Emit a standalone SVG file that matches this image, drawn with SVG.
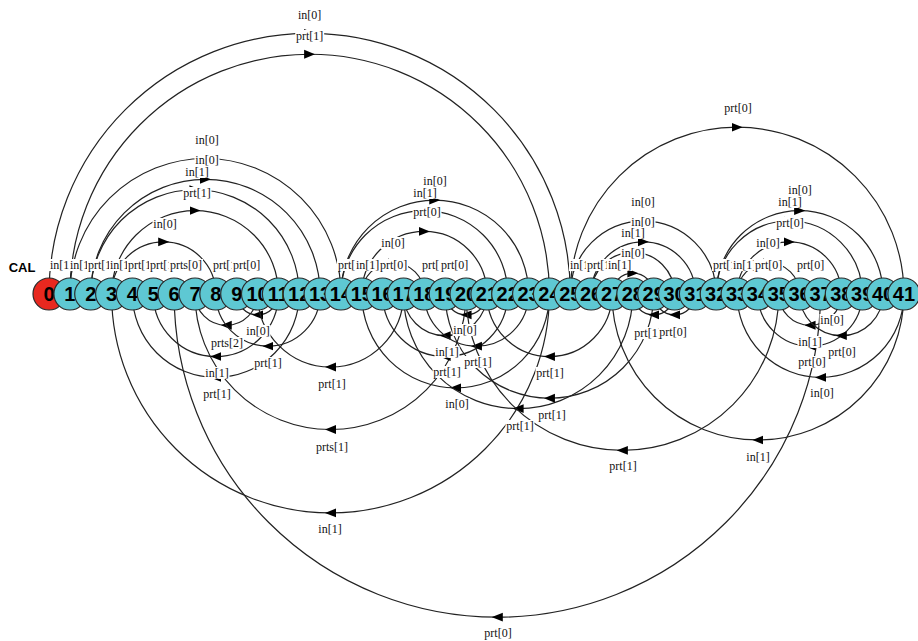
<svg xmlns="http://www.w3.org/2000/svg" width="918" height="641" viewBox="0 0 918 641">
<style>
.e{fill:none;stroke:#222;stroke-width:1.2;marker-mid:url(#ah)}
.bg{fill:#fff}
.l{font-family:"Liberation Serif",serif;font-size:12px;fill:#111;text-anchor:middle}
.ls{font-family:"Liberation Serif",serif;font-size:12px;fill:#111}
.n circle{fill:#5ec8d3;stroke:#2a2a2a;stroke-width:1.2}
.r circle{fill:#e8281f;stroke:#2a2a2a;stroke-width:1.2}
.n text,.r text{font-family:"Liberation Sans",Arial,sans-serif;font-weight:bold;font-size:20px;text-anchor:middle;fill:#000}
.cal{font-family:"Liberation Sans",Arial,sans-serif;font-weight:bold;font-size:13px;text-anchor:middle;fill:#000}
</style>
<defs>
<marker id="ah" viewBox="0 0 10 10" refX="5" refY="5" markerWidth="11" markerHeight="11" markerUnits="userSpaceOnUse" orient="auto"><path d="M0,1 L10,5 L0,9 z" fill="#000"/></marker>
</defs>
<rect width="918" height="641" fill="#fff"/>
<g id="connectors">
<path class="e" d="M49,294 A260.65,260.65 0 0 1 309.65,33.35 A260.65,260.65 0 0 1 570.3,294"/>
<path class="e" d="M69.9,294 A239.75,239.75 0 0 1 309.65,54.25 A239.75,239.75 0 0 1 549.4,294"/>
<path class="e" d="M69.9,294 A135.5,135.5 0 0 1 205.4,158.5 A135.5,135.5 0 0 1 340.9,294"/>
<path class="e" d="M90.7,294 A114.7,114.7 0 0 1 205.4,179.3 A114.7,114.7 0 0 1 320.1,294"/>
<path class="e" d="M90.7,294 A104.25,104.25 0 0 1 194.95,189.75 A104.25,104.25 0 0 1 299.2,294"/>
<path class="e" d="M111.6,294 A83.4,83.4 0 0 1 195,210.6 A83.4,83.4 0 0 1 278.4,294"/>
<path class="e" d="M111.6,294 A52.1,52.1 0 0 1 163.7,241.9 A52.1,52.1 0 0 1 215.8,294"/>
<path class="e" d="M340.9,294 A93.85,93.85 0 0 1 434.75,200.15 A93.85,93.85 0 0 1 528.6,294"/>
<path class="e" d="M340.9,294 A83.4,83.4 0 0 1 424.3,210.6 A83.4,83.4 0 0 1 507.7,294"/>
<path class="e" d="M361.8,294 A62.55,62.55 0 0 1 424.35,231.45 A62.55,62.55 0 0 1 486.9,294"/>
<path class="e" d="M361.8,294 A31.25,31.25 0 0 1 393.05,262.75 A31.25,31.25 0 0 1 424.3,294"/>
<path class="e" d="M570.3,294 A166.8,166.8 0 0 1 737.1,127.2 A166.8,166.8 0 0 1 903.9,294"/>
<path class="e" d="M570.3,294 A72.95,72.95 0 0 1 643.25,221.05 A72.95,72.95 0 0 1 716.2,294"/>
<path class="e" d="M591.1,294 A52.15,52.15 0 0 1 643.25,241.85 A52.15,52.15 0 0 1 695.4,294"/>
<path class="e" d="M591.1,294 A41.7,41.7 0 0 1 632.8,252.3 A41.7,41.7 0 0 1 674.5,294"/>
<path class="e" d="M612,294 A20.85,20.85 0 0 1 632.85,273.15 A20.85,20.85 0 0 1 653.7,294"/>
<path class="e" d="M716.2,294 A83.4,83.4 0 0 1 799.6,210.6 A83.4,83.4 0 0 1 883,294"/>
<path class="e" d="M716.2,294 A73,73 0 0 1 789.2,221 A73,73 0 0 1 862.2,294"/>
<path class="e" d="M737.1,294 A52.1,52.1 0 0 1 789.2,241.9 A52.1,52.1 0 0 1 841.3,294"/>
<path class="e" d="M737.1,294 A31.25,31.25 0 0 1 768.35,262.75 A31.25,31.25 0 0 1 799.6,294"/>
<path class="e" d="M278.4,294 A20.85,20.85 0 0 1 257.55,314.85 A20.85,20.85 0 0 1 236.7,294"/>
<path class="e" d="M257.5,294 A31.25,31.25 0 0 1 226.25,325.25 A31.25,31.25 0 0 1 195,294"/>
<path class="e" d="M320.1,294 A52.15,52.15 0 0 1 267.95,346.15 A52.15,52.15 0 0 1 215.8,294"/>
<path class="e" d="M278.4,294 A62.55,62.55 0 0 1 215.85,356.55 A62.55,62.55 0 0 1 153.3,294"/>
<path class="e" d="M299.2,294 A83.4,83.4 0 0 1 215.8,377.4 A83.4,83.4 0 0 1 132.4,294"/>
<path class="e" d="M403.5,294 A73,73 0 0 1 330.5,367 A73,73 0 0 1 257.5,294"/>
<path class="e" d="M466,294 A135.5,135.5 0 0 1 330.5,429.5 A135.5,135.5 0 0 1 195,294"/>
<path class="e" d="M549.4,294 A218.9,218.9 0 0 1 330.5,512.9 A218.9,218.9 0 0 1 111.6,294"/>
<path class="e" d="M820.5,294 A323.2,323.2 0 0 1 497.3,617.2 A323.2,323.2 0 0 1 174.1,294"/>
<path class="e" d="M486.9,294 A20.85,20.85 0 0 1 466.05,314.85 A20.85,20.85 0 0 1 445.2,294"/>
<path class="e" d="M486.9,294 A41.7,41.7 0 0 1 445.2,335.7 A41.7,41.7 0 0 1 403.5,294"/>
<path class="e" d="M507.7,294 A62.55,62.55 0 0 1 445.15,356.55 A62.55,62.55 0 0 1 382.6,294"/>
<path class="e" d="M528.6,294 A52.15,52.15 0 0 1 476.45,346.15 A52.15,52.15 0 0 1 424.3,294"/>
<path class="e" d="M549.4,294 A93.8,93.8 0 0 1 455.6,387.8 A93.8,93.8 0 0 1 361.8,294"/>
<path class="e" d="M632.8,294 A114.65,114.65 0 0 1 518.15,408.65 A114.65,114.65 0 0 1 403.5,294"/>
<path class="e" d="M612,294 A62.55,62.55 0 0 1 549.45,356.55 A62.55,62.55 0 0 1 486.9,294"/>
<path class="e" d="M653.7,294 A104.25,104.25 0 0 1 549.45,398.25 A104.25,104.25 0 0 1 445.2,294"/>
<path class="e" d="M778.8,294 A156.4,156.4 0 0 1 622.4,450.4 A156.4,156.4 0 0 1 466,294"/>
<path class="e" d="M903.9,294 A145.95,145.95 0 0 1 757.95,439.95 A145.95,145.95 0 0 1 612,294"/>
<path class="e" d="M674.5,294 A20.85,20.85 0 0 1 653.65,314.85 A20.85,20.85 0 0 1 632.8,294"/>
<path class="e" d="M695.4,294 A20.85,20.85 0 0 1 674.55,314.85 A20.85,20.85 0 0 1 653.7,294"/>
<path class="e" d="M841.3,294 A31.25,31.25 0 0 1 810.05,325.25 A31.25,31.25 0 0 1 778.8,294"/>
<path class="e" d="M862.2,294 A52.15,52.15 0 0 1 810.05,346.15 A52.15,52.15 0 0 1 757.9,294"/>
<path class="e" d="M883,294 A41.7,41.7 0 0 1 841.3,335.7 A41.7,41.7 0 0 1 799.6,294"/>
<path class="e" d="M903.9,294 A83.4,83.4 0 0 1 820.5,377.4 A83.4,83.4 0 0 1 737.1,294"/>
</g>
<g id="edge-labels">
<rect class="bg" x="297.2" y="9" width="25" height="12"/><text class="l" x="309.65" y="19">in[0]</text>
<rect class="bg" x="295.2" y="30" width="29" height="12"/><text class="l" x="309.65" y="40">prt[1]</text>
<rect class="bg" x="194.5" y="134" width="25" height="12"/><text class="l" x="207" y="144">in[0]</text>
<rect class="bg" x="194.5" y="154" width="25" height="12"/><text class="l" x="207" y="164">in[0]</text>
<rect class="bg" x="184.5" y="166" width="25" height="12"/><text class="l" x="197" y="176">in[1]</text>
<rect class="bg" x="182.5" y="187" width="29" height="12"/><text class="l" x="197" y="197">prt[1]</text>
<rect class="bg" x="152.5" y="218" width="25" height="12"/><text class="l" x="165" y="228">in[0]</text>
<rect class="bg" x="422.5" y="175" width="25" height="12"/><text class="l" x="435" y="185">in[0]</text>
<rect class="bg" x="412.5" y="187" width="25" height="12"/><text class="l" x="425" y="197">in[1]</text>
<rect class="bg" x="412.5" y="206" width="29" height="12"/><text class="l" x="427" y="216">prt[0]</text>
<rect class="bg" x="380.5" y="237" width="25" height="12"/><text class="l" x="393" y="247">in[0]</text>
<rect class="bg" x="723.5" y="102" width="29" height="12"/><text class="l" x="738" y="112">prt[0]</text>
<rect class="bg" x="630.5" y="196" width="25" height="12"/><text class="l" x="643" y="206">in[0]</text>
<rect class="bg" x="630.5" y="216" width="25" height="12"/><text class="l" x="643" y="226">in[0]</text>
<rect class="bg" x="620.5" y="227" width="25" height="12"/><text class="l" x="633" y="237">in[1]</text>
<rect class="bg" x="620.5" y="247" width="25" height="12"/><text class="l" x="633" y="257">in[0]</text>
<rect class="bg" x="787.5" y="184" width="25" height="12"/><text class="l" x="800" y="194">in[0]</text>
<rect class="bg" x="777.5" y="196" width="25" height="12"/><text class="l" x="790" y="206">in[1]</text>
<rect class="bg" x="775.5" y="217" width="29" height="12"/><text class="l" x="790" y="227">prt[0]</text>
<rect class="bg" x="755.5" y="237" width="25" height="12"/><text class="l" x="768" y="247">in[0]</text>
<rect class="bg" x="245.5" y="325" width="25" height="12"/><text class="l" x="258" y="335">in[0]</text>
<rect class="bg" x="210" y="337" width="34" height="12"/><text class="l" x="227" y="347">prts[2]</text>
<rect class="bg" x="253.5" y="357" width="29" height="12"/><text class="l" x="268" y="367">prt[1]</text>
<rect class="bg" x="204.5" y="367" width="25" height="12"/><text class="l" x="217" y="377">in[1]</text>
<rect class="bg" x="202.5" y="388" width="29" height="12"/><text class="l" x="217" y="398">prt[1]</text>
<rect class="bg" x="317.5" y="378" width="29" height="12"/><text class="l" x="332" y="388">prt[1]</text>
<rect class="bg" x="315" y="441" width="34" height="12"/><text class="l" x="332" y="451">prts[1]</text>
<rect class="bg" x="317.5" y="523" width="25" height="12"/><text class="l" x="330" y="533">in[1]</text>
<rect class="bg" x="483.5" y="627" width="29" height="12"/><text class="l" x="498" y="637">prt[0]</text>
<rect class="bg" x="452.5" y="324" width="25" height="12"/><text class="l" x="465" y="334">in[0]</text>
<rect class="bg" x="434.5" y="346" width="25" height="12"/><text class="l" x="447" y="356">in[1]</text>
<rect class="bg" x="463.5" y="356" width="29" height="12"/><text class="l" x="478" y="366">prt[1]</text>
<rect class="bg" x="432.5" y="366" width="29" height="12"/><text class="l" x="447" y="376">prt[1]</text>
<rect class="bg" x="444.5" y="398" width="25" height="12"/><text class="l" x="457" y="408">in[0]</text>
<rect class="bg" x="535.5" y="367" width="29" height="12"/><text class="l" x="550" y="377">prt[1]</text>
<rect class="bg" x="537.5" y="409" width="29" height="12"/><text class="l" x="552" y="419">prt[1]</text>
<rect class="bg" x="505.5" y="420" width="29" height="12"/><text class="l" x="520" y="430">prt[1]</text>
<rect class="bg" x="608.5" y="460" width="29" height="12"/><text class="l" x="623" y="470">prt[1]</text>
<rect class="bg" x="745.5" y="451" width="25" height="12"/><text class="l" x="758" y="461">in[1]</text>
<rect class="bg" x="633.5" y="327" width="29" height="12"/><text class="l" x="648" y="337">prt[1]</text>
<rect class="bg" x="658.5" y="326" width="29" height="12"/><text class="l" x="673" y="336">prt[0]</text>
<rect class="bg" x="819.5" y="314" width="25" height="12"/><text class="l" x="832" y="324">in[0]</text>
<rect class="bg" x="797.5" y="336" width="25" height="12"/><text class="l" x="810" y="346">in[1]</text>
<rect class="bg" x="827.5" y="346" width="29" height="12"/><text class="l" x="842" y="356">prt[0]</text>
<rect class="bg" x="797.5" y="356" width="29" height="12"/><text class="l" x="812" y="366">prt[0]</text>
<rect class="bg" x="809.5" y="387" width="25" height="12"/><text class="l" x="822" y="397">in[0]</text>
<rect class="bg" x="49" y="259" width="25" height="12"/><text class="ls" x="50" y="269">in[1]</text>
<rect class="bg" x="69" y="259" width="25" height="12"/><text class="ls" x="70" y="269">in[1]</text>
<rect class="bg" x="87" y="259" width="29" height="12"/><text class="ls" x="88" y="269">prt[1]</text>
<rect class="bg" x="109" y="259" width="25" height="12"/><text class="ls" x="110" y="269">in[1]</text>
<rect class="bg" x="127" y="259" width="29" height="12"/><text class="ls" x="128" y="269">prt[1]</text>
<rect class="bg" x="149" y="259" width="29" height="12"/><text class="ls" x="150" y="269">prt[1]</text>
<rect class="bg" x="169" y="259" width="34" height="12"/><text class="ls" x="170" y="269">prts[0]</text>
<rect class="bg" x="212" y="259" width="29" height="12"/><text class="ls" x="213" y="269">prt[1]</text>
<rect class="bg" x="232" y="259" width="29" height="12"/><text class="ls" x="233" y="269">prt[0]</text>
<rect class="bg" x="337" y="259" width="29" height="12"/><text class="ls" x="338" y="269">prt[1]</text>
<rect class="bg" x="355" y="259" width="25" height="12"/><text class="ls" x="356" y="269">in[1]</text>
<rect class="bg" x="379" y="259" width="29" height="12"/><text class="ls" x="380" y="269">prt[0]</text>
<rect class="bg" x="421" y="259" width="29" height="12"/><text class="ls" x="422" y="269">prt[1]</text>
<rect class="bg" x="440" y="259" width="29" height="12"/><text class="ls" x="441" y="269">prt[0]</text>
<rect class="bg" x="569" y="259" width="25" height="12"/><text class="ls" x="570" y="269">in[1]</text>
<rect class="bg" x="586" y="259" width="29" height="12"/><text class="ls" x="587" y="269">prt[1]</text>
<rect class="bg" x="607" y="259" width="25" height="12"/><text class="ls" x="608" y="269">in[1]</text>
<rect class="bg" x="712" y="259" width="29" height="12"/><text class="ls" x="713" y="269">prt[1]</text>
<rect class="bg" x="732" y="259" width="25" height="12"/><text class="ls" x="733" y="269">in[1]</text>
<rect class="bg" x="754" y="259" width="29" height="12"/><text class="ls" x="755" y="269">prt[0]</text>
<rect class="bg" x="796" y="259" width="29" height="12"/><text class="ls" x="797" y="269">prt[0]</text>
</g>
<text class="cal" x="22" y="272">CAL</text>
<g id="node-0" class="r"><circle cx="49" cy="294" r="16"/><text x="49" y="301">0</text></g>
<g id="node-1" class="n"><circle cx="69.9" cy="294" r="16"/><text x="69.9" y="301">1</text></g>
<g id="node-2" class="n"><circle cx="90.7" cy="294" r="16"/><text x="90.7" y="301">2</text></g>
<g id="node-3" class="n"><circle cx="111.6" cy="294" r="16"/><text x="111.6" y="301">3</text></g>
<g id="node-4" class="n"><circle cx="132.4" cy="294" r="16"/><text x="132.4" y="301">4</text></g>
<g id="node-5" class="n"><circle cx="153.3" cy="294" r="16"/><text x="153.3" y="301">5</text></g>
<g id="node-6" class="n"><circle cx="174.1" cy="294" r="16"/><text x="174.1" y="301">6</text></g>
<g id="node-7" class="n"><circle cx="195" cy="294" r="16"/><text x="195" y="301">7</text></g>
<g id="node-8" class="n"><circle cx="215.8" cy="294" r="16"/><text x="215.8" y="301">8</text></g>
<g id="node-9" class="n"><circle cx="236.7" cy="294" r="16"/><text x="236.7" y="301">9</text></g>
<g id="node-10" class="n"><circle cx="257.5" cy="294" r="16"/><text x="257.5" y="301">10</text></g>
<g id="node-11" class="n"><circle cx="278.4" cy="294" r="16"/><text x="278.4" y="301">11</text></g>
<g id="node-12" class="n"><circle cx="299.2" cy="294" r="16"/><text x="299.2" y="301">12</text></g>
<g id="node-13" class="n"><circle cx="320.1" cy="294" r="16"/><text x="320.1" y="301">13</text></g>
<g id="node-14" class="n"><circle cx="340.9" cy="294" r="16"/><text x="340.9" y="301">14</text></g>
<g id="node-15" class="n"><circle cx="361.8" cy="294" r="16"/><text x="361.8" y="301">15</text></g>
<g id="node-16" class="n"><circle cx="382.6" cy="294" r="16"/><text x="382.6" y="301">16</text></g>
<g id="node-17" class="n"><circle cx="403.5" cy="294" r="16"/><text x="403.5" y="301">17</text></g>
<g id="node-18" class="n"><circle cx="424.3" cy="294" r="16"/><text x="424.3" y="301">18</text></g>
<g id="node-19" class="n"><circle cx="445.2" cy="294" r="16"/><text x="445.2" y="301">19</text></g>
<g id="node-20" class="n"><circle cx="466" cy="294" r="16"/><text x="466" y="301">20</text></g>
<g id="node-21" class="n"><circle cx="486.9" cy="294" r="16"/><text x="486.9" y="301">21</text></g>
<g id="node-22" class="n"><circle cx="507.7" cy="294" r="16"/><text x="507.7" y="301">22</text></g>
<g id="node-23" class="n"><circle cx="528.6" cy="294" r="16"/><text x="528.6" y="301">23</text></g>
<g id="node-24" class="n"><circle cx="549.4" cy="294" r="16"/><text x="549.4" y="301">24</text></g>
<g id="node-25" class="n"><circle cx="570.3" cy="294" r="16"/><text x="570.3" y="301">25</text></g>
<g id="node-26" class="n"><circle cx="591.1" cy="294" r="16"/><text x="591.1" y="301">26</text></g>
<g id="node-27" class="n"><circle cx="612" cy="294" r="16"/><text x="612" y="301">27</text></g>
<g id="node-28" class="n"><circle cx="632.8" cy="294" r="16"/><text x="632.8" y="301">28</text></g>
<g id="node-29" class="n"><circle cx="653.7" cy="294" r="16"/><text x="653.7" y="301">29</text></g>
<g id="node-30" class="n"><circle cx="674.5" cy="294" r="16"/><text x="674.5" y="301">30</text></g>
<g id="node-31" class="n"><circle cx="695.4" cy="294" r="16"/><text x="695.4" y="301">31</text></g>
<g id="node-32" class="n"><circle cx="716.2" cy="294" r="16"/><text x="716.2" y="301">32</text></g>
<g id="node-33" class="n"><circle cx="737.1" cy="294" r="16"/><text x="737.1" y="301">33</text></g>
<g id="node-34" class="n"><circle cx="757.9" cy="294" r="16"/><text x="757.9" y="301">34</text></g>
<g id="node-35" class="n"><circle cx="778.8" cy="294" r="16"/><text x="778.8" y="301">35</text></g>
<g id="node-36" class="n"><circle cx="799.6" cy="294" r="16"/><text x="799.6" y="301">36</text></g>
<g id="node-37" class="n"><circle cx="820.5" cy="294" r="16"/><text x="820.5" y="301">37</text></g>
<g id="node-38" class="n"><circle cx="841.3" cy="294" r="16"/><text x="841.3" y="301">38</text></g>
<g id="node-39" class="n"><circle cx="862.2" cy="294" r="16"/><text x="862.2" y="301">39</text></g>
<g id="node-40" class="n"><circle cx="883" cy="294" r="16"/><text x="883" y="301">40</text></g>
<g id="node-41" class="n"><circle cx="903.9" cy="294" r="16"/><text x="903.9" y="301">41</text></g>
</svg>
